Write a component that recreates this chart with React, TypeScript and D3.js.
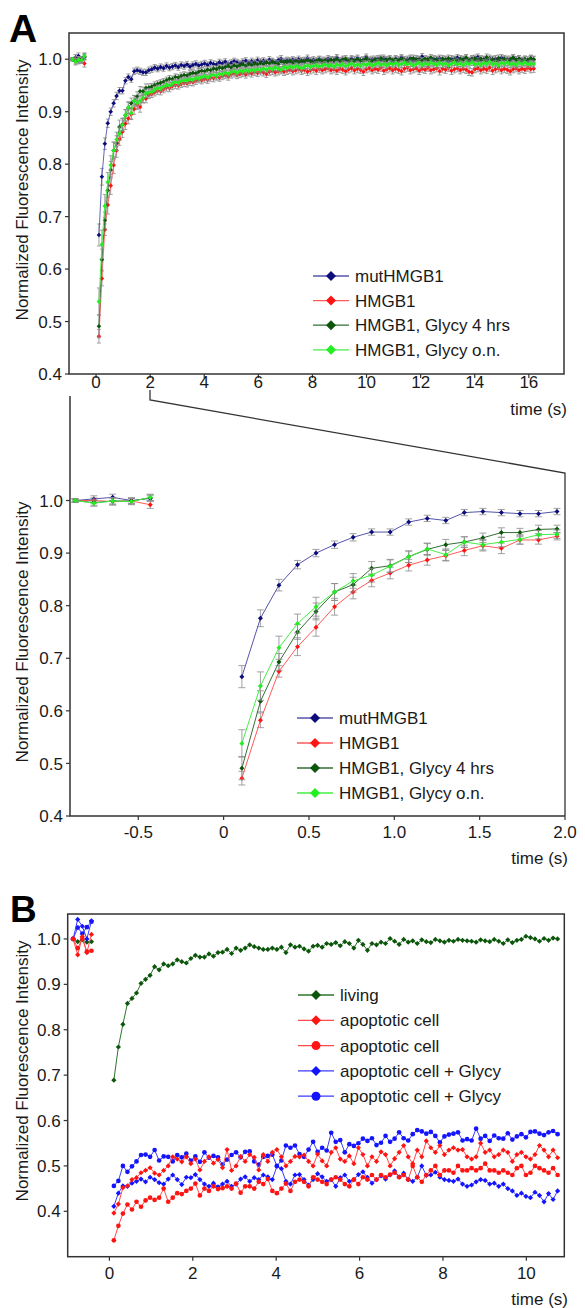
import React from 'react';
import * as d3 from 'd3';

const W = 585, H = 1308;
const FONT = "'Liberation Sans', Arial, Helvetica, sans-serif";

// ---------- sampling ----------
const preTimes = [-0.87, -0.76, -0.65, -0.54, -0.43];
const POST_T0 = 0.107;
const POST_DT = 0.1086;

// ---------- Panel A data ----------
const mutPre = [1.0, 1.003, 1.006, 1.0, 1.004];
const mutPreErr = [0.003, 0.006, 0.006, 0.005, 0.005];
const mutHead = [0.665, 0.776, 0.839, 0.878, 0.900, 0.916, 0.930, 0.940, 0.940, 0.959, 0.966, 0.962, 0.977, 0.979, 0.977, 0.975, 0.975, 0.979];
const mutHeadErr = [0.021, 0.016, 0.011, 0.008, 0.007, 0.007, 0.007, 0.006, 0.006, 0.006, 0.006, 0.006, 0.006, 0.006, 0.006, 0.006, 0.006, 0.006];
const mutTail = [
  0.981, 0.984, 0.982, 0.985, 0.983, 0.987, 0.984, 0.986, 0.988, 0.985, 0.989, 0.987,
  0.990, 0.986, 0.989, 0.991, 0.988, 0.990, 0.992, 0.989, 0.993, 0.991, 0.990, 0.994,
  0.992, 0.995, 0.991, 0.993, 0.996, 0.994, 0.992, 0.995, 0.997, 0.993, 0.996, 0.994,
  0.998, 0.995, 0.997, 0.994, 0.999, 0.996, 0.993, 0.998, 1.001, 0.996, 0.998, 0.995,
  0.999, 0.997, 1.000, 0.996, 0.998, 1.002, 0.997, 0.999, 0.995, 1.000, 0.998, 0.996,
  1.001, 0.998, 0.999, 1.003, 0.997, 1.000, 0.998, 0.996, 1.001, 0.999, 1.002, 0.997,
  0.999, 1.004, 0.998, 1.000, 0.997, 1.001, 0.999, 1.002, 0.998, 1.000, 0.996, 1.001,
  0.999, 1.003, 0.998, 1.000, 1.002, 0.997, 1.001, 0.999, 1.005, 0.998, 1.000, 0.997,
  1.001, 0.999, 1.002, 0.998, 1.000, 0.996, 1.001, 0.999, 1.003, 0.998, 1.000, 1.002,
  0.997, 1.001, 0.999, 1.004, 0.998, 1.000, 0.997, 1.002, 0.999, 1.001, 0.998, 1.003,
  0.999, 1.000, 0.997, 1.002, 0.999, 1.001, 0.998, 1.000, 0.996, 1.001, 0.999
];
const mutTailErr = 0.006;

const hmgPre = [1.0, 1.0, 0.998, 0.999, 0.992];
const hmgPreErr = [0.003, 0.005, 0.007, 0.005, 0.007];
const hmgHead = [0.472, 0.582, 0.675, 0.722, 0.759, 0.798, 0.826, 0.848, 0.862, 0.877, 0.887, 0.895, 0.905, 0.914, 0.909, 0.925, 0.925, 0.932];
const hmgHeadErr = [0.013, 0.014, 0.011, 0.017, 0.017, 0.016, 0.013, 0.012, 0.011, 0.011, 0.010, 0.010, 0.010, 0.010, 0.010, 0.008, 0.008, 0.007];
const hmgTail = [
  0.934, 0.937, 0.940, 0.939, 0.943, 0.946, 0.945, 0.949, 0.951, 0.950, 0.953, 0.955,
  0.954, 0.957, 0.956, 0.959, 0.962, 0.960, 0.963, 0.961, 0.965, 0.964, 0.967, 0.965,
  0.968, 0.970, 0.967, 0.971, 0.973, 0.970, 0.972, 0.974, 0.971, 0.975, 0.973, 0.976,
  0.974, 0.977, 0.975, 0.972, 0.976, 0.978, 0.975, 0.977, 0.979, 0.976, 0.978, 0.980,
  0.977, 0.979, 0.981, 0.978, 0.980, 0.976, 0.979, 0.981, 0.978, 0.982, 0.979, 0.981,
  0.983, 0.979, 0.981, 0.978, 0.982, 0.980, 0.977, 0.981, 0.983, 0.979, 0.982, 0.980,
  0.976, 0.981, 0.983, 0.979, 0.982, 0.980, 0.984, 0.978, 0.981, 0.983, 0.979, 0.982,
  0.980, 0.977, 0.982, 0.984, 0.979, 0.981, 0.983, 0.978, 0.982, 0.980, 0.984, 0.979,
  0.981, 0.983, 0.977, 0.982, 0.980, 0.984, 0.978, 0.981, 0.983, 0.979, 0.982, 0.980,
  0.976, 0.975, 0.981, 0.983, 0.979, 0.982, 0.980, 0.984, 0.978, 0.981, 0.983, 0.979,
  0.982, 0.980, 0.977, 0.981, 0.983, 0.979, 0.982, 0.980, 0.984, 0.981, 0.982
];
const hmgTailErr = 0.007;

const gly4Pre = [1.0, 0.996, 0.999, 0.999, 1.005];
const gly4PreErr = [0.003, 0.005, 0.006, 0.006, 0.006];
const gly4Head = [0.491, 0.618, 0.693, 0.750, 0.789, 0.826, 0.840, 0.871, 0.876, 0.893, 0.907, 0.916, 0.921, 0.929, 0.939, 0.939, 0.945, 0.946];
const gly4HeadErr = [0.022, 0.020, 0.016, 0.014, 0.016, 0.016, 0.014, 0.013, 0.012, 0.011, 0.011, 0.010, 0.010, 0.009, 0.009, 0.008, 0.008, 0.007];
const gly4Tail = [
  0.948, 0.951, 0.953, 0.955, 0.957, 0.960, 0.963, 0.962, 0.966, 0.965, 0.968, 0.970,
  0.969, 0.972, 0.974, 0.973, 0.976, 0.978, 0.977, 0.980, 0.979, 0.982, 0.981, 0.984,
  0.983, 0.985, 0.987, 0.984, 0.988, 0.986, 0.989, 0.990, 0.987, 0.991, 0.989, 0.992,
  0.990, 0.993, 0.991, 0.994, 0.992, 0.995, 0.993, 0.991, 0.996, 0.994, 0.995, 0.997,
  0.993, 0.996, 0.994, 0.997, 0.995, 0.998, 0.996, 0.994, 0.997, 0.999, 0.995, 0.998,
  0.996, 0.999, 0.997, 1.000, 0.996, 0.998, 1.001, 0.997, 0.999, 0.996, 1.000, 0.998,
  0.997, 1.001, 0.998, 0.996, 1.000, 0.998, 1.002, 0.997, 0.999, 1.001, 0.998, 1.000,
  0.997, 1.001, 0.999, 0.996, 1.000, 1.002, 0.998, 1.000, 0.997, 1.001, 0.999, 1.003,
  0.998, 1.000, 0.997, 1.001, 0.999, 1.002, 0.998, 1.000, 0.996, 1.001, 0.999, 1.003,
  0.998, 1.000, 1.002, 0.997, 1.001, 0.999, 1.004, 0.998, 1.000, 0.997, 1.002, 0.999,
  1.001, 0.998, 1.000, 1.003, 0.999, 1.001, 0.997, 1.000, 0.999, 1.002, 1.000
];
const gly4TailErr = 0.006;

const glyOnPre = [1.0, 0.995, 0.999, 0.998, 1.006];
const glyOnPreErr = [0.003, 0.006, 0.006, 0.006, 0.006];
const glyOnHead = [0.538, 0.647, 0.720, 0.766, 0.798, 0.826, 0.847, 0.858, 0.875, 0.893, 0.908, 0.897, 0.921, 0.916, 0.921, 0.926, 0.935, 0.936];
const glyOnHeadErr = [0.026, 0.027, 0.022, 0.018, 0.018, 0.016, 0.014, 0.013, 0.012, 0.011, 0.011, 0.011, 0.010, 0.010, 0.009, 0.009, 0.008, 0.008];
const glyOnTail = [
  0.938, 0.942, 0.945, 0.944, 0.948, 0.951, 0.950, 0.954, 0.956, 0.955, 0.958, 0.960,
  0.959, 0.962, 0.961, 0.964, 0.963, 0.966, 0.968, 0.965, 0.969, 0.970, 0.968, 0.972,
  0.971, 0.974, 0.972, 0.975, 0.977, 0.974, 0.978, 0.976, 0.979, 0.977, 0.980, 0.978,
  0.981, 0.979, 0.982, 0.980, 0.983, 0.981, 0.984, 0.982, 0.980, 0.985, 0.983, 0.986,
  0.984, 0.987, 0.985, 0.983, 0.986, 0.988, 0.985, 0.987, 0.989, 0.986, 0.988, 0.990,
  0.987, 0.989, 0.986, 0.990, 0.988, 0.991, 0.987, 0.989, 0.992, 0.988, 0.990, 0.987,
  0.991, 0.989, 0.992, 0.988, 0.990, 0.993, 0.989, 0.991, 0.988, 0.992, 0.990, 0.993,
  0.989, 0.991, 0.994, 0.990, 0.992, 0.988, 0.991, 0.993, 0.989, 0.992, 0.990, 0.994,
  0.991, 0.989, 0.993, 0.990, 0.992, 0.988, 0.991, 0.994, 0.990, 0.992, 0.989, 0.993,
  0.991, 0.994, 0.990, 0.992, 0.989, 0.993, 0.991, 0.995, 0.990, 0.992, 0.988, 0.993,
  0.991, 0.994, 0.990, 0.992, 0.989, 0.993, 0.991, 0.994, 0.990, 0.992, 0.991
];
const glyOnTailErr = 0.006;

// ---------- Panel B data ----------
const livingPre = [1.0, 0.994, 0.998, 0.993, 0.994];
const livingPost = [
  0.689, 0.762, 0.812, 0.858, 0.869, 0.881, 0.902, 0.911, 0.920, 0.939,
  0.932, 0.945, 0.941, 0.945, 0.954, 0.950, 0.947, 0.957, 0.964, 0.960,
  0.960, 0.967, 0.962, 0.970, 0.971, 0.977, 0.968, 0.980, 0.975, 0.980,
  0.987, 0.983, 0.980, 0.977, 0.977, 0.980, 0.977, 0.982, 0.970, 0.987,
  0.982, 0.984, 0.978, 0.973, 0.984, 0.986, 0.982, 0.990, 0.988, 0.992,
  0.985, 0.994, 0.990, 0.980, 0.997, 0.988, 0.975, 0.990, 0.987, 0.993,
  0.990, 1.001, 0.995, 0.988, 0.999, 0.993, 0.996, 0.990, 0.998, 0.994,
  0.992, 0.999, 0.996, 0.993, 0.997, 0.995, 0.999, 0.997, 0.996, 0.995,
  0.993, 0.998, 0.996, 0.994, 0.999, 0.995, 0.990, 0.998, 0.992, 0.997,
  0.999, 1.006, 1.003, 1.000, 0.995, 1.001, 0.997, 1.002, 1.000
];
const apoDiaPre = [1.0, 0.965, 1.005, 0.970, 1.010];
const apoDiaPost = [
  0.396, 0.416, 0.452, 0.456, 0.470, 0.474, 0.485, 0.490, 0.496, 0.484,
  0.480, 0.490, 0.500, 0.520, 0.515, 0.509, 0.520, 0.505, 0.515, 0.491,
  0.510, 0.520, 0.506, 0.514, 0.496, 0.536, 0.490, 0.500, 0.521, 0.510,
  0.525, 0.519, 0.491, 0.525, 0.510, 0.530, 0.536, 0.520, 0.500, 0.510,
  0.521, 0.520, 0.524, 0.510, 0.500, 0.526, 0.511, 0.500, 0.530, 0.540,
  0.515, 0.510, 0.522, 0.505, 0.540, 0.525, 0.500, 0.520, 0.510, 0.531,
  0.525, 0.500, 0.516, 0.530, 0.545, 0.520, 0.505, 0.535, 0.520, 0.555,
  0.540, 0.530, 0.545, 0.525, 0.535, 0.540, 0.535, 0.536, 0.520, 0.515,
  0.520, 0.550, 0.530, 0.535, 0.520, 0.525, 0.535, 0.530, 0.510, 0.525,
  0.530, 0.520, 0.515, 0.525, 0.545, 0.535, 0.520, 0.535, 0.518
];
const apoCirPre = [1.0, 0.980, 1.000, 0.972, 0.974];
const apoCirPost = [
  0.336, 0.368, 0.395, 0.415, 0.404, 0.421, 0.410, 0.424, 0.430, 0.425,
  0.430, 0.450, 0.421, 0.430, 0.440, 0.438, 0.445, 0.450, 0.461, 0.435,
  0.450, 0.445, 0.455, 0.449, 0.451, 0.455, 0.450, 0.461, 0.441, 0.455,
  0.455, 0.450, 0.465, 0.460, 0.471, 0.445, 0.440, 0.450, 0.461, 0.445,
  0.465, 0.470, 0.465, 0.455, 0.475, 0.470, 0.465, 0.460, 0.470, 0.475,
  0.470, 0.460, 0.455, 0.470, 0.460, 0.475, 0.470, 0.480, 0.470, 0.480,
  0.475, 0.481, 0.485, 0.475, 0.480, 0.470, 0.500, 0.475, 0.465, 0.480,
  0.490, 0.500, 0.480, 0.490, 0.490, 0.485, 0.500, 0.490, 0.490, 0.495,
  0.490, 0.495, 0.505, 0.490, 0.490, 0.485, 0.490, 0.485, 0.480, 0.495,
  0.500, 0.480, 0.485, 0.500, 0.495, 0.490, 0.485, 0.495, 0.480
];
const glyDiaPre = [1.0, 1.043, 1.028, 1.0, 1.040];
const glyDiaPost = [
  0.411, 0.440, 0.456, 0.455, 0.462, 0.466, 0.471, 0.465, 0.475, 0.470,
  0.463, 0.460, 0.471, 0.480, 0.470, 0.459, 0.475, 0.474, 0.481, 0.470,
  0.460, 0.455, 0.462, 0.454, 0.460, 0.466, 0.455, 0.460, 0.471, 0.476,
  0.466, 0.474, 0.470, 0.480, 0.476, 0.470, 0.499, 0.494, 0.466, 0.460,
  0.480, 0.481, 0.470, 0.458, 0.470, 0.483, 0.476, 0.466, 0.470, 0.455,
  0.474, 0.480, 0.466, 0.470, 0.481, 0.487, 0.475, 0.462, 0.470, 0.478,
  0.471, 0.480, 0.489, 0.476, 0.484, 0.470, 0.466, 0.475, 0.500, 0.479,
  0.480, 0.486, 0.475, 0.470, 0.468, 0.466, 0.471, 0.460, 0.455, 0.458,
  0.465, 0.470, 0.468, 0.460, 0.462, 0.455, 0.460, 0.450, 0.445, 0.435,
  0.440, 0.433, 0.430, 0.442, 0.435, 0.421, 0.439, 0.426, 0.445
];
const glyCirPre = [1.0, 1.025, 1.012, 1.026, 1.038];
const glyCirPost = [
  0.456, 0.467, 0.500, 0.487, 0.499, 0.510, 0.524, 0.525, 0.520, 0.535,
  0.512, 0.521, 0.520, 0.510, 0.524, 0.519, 0.527, 0.512, 0.521, 0.509,
  0.530, 0.518, 0.522, 0.519, 0.503, 0.514, 0.524, 0.530, 0.519, 0.531,
  0.532, 0.510, 0.503, 0.520, 0.522, 0.525, 0.500, 0.512, 0.545, 0.540,
  0.545, 0.526, 0.520, 0.536, 0.553, 0.531, 0.540, 0.534, 0.573, 0.553,
  0.557, 0.530, 0.548, 0.544, 0.550, 0.560, 0.555, 0.561, 0.546, 0.551,
  0.566, 0.553, 0.560, 0.574, 0.561, 0.556, 0.570, 0.579, 0.576, 0.571,
  0.575, 0.566, 0.552, 0.565, 0.569, 0.571, 0.574, 0.556, 0.559, 0.556,
  0.582, 0.560, 0.566, 0.555, 0.567, 0.561, 0.560, 0.572, 0.558, 0.565,
  0.570, 0.563, 0.575, 0.576, 0.571, 0.568, 0.574, 0.577, 0.570
];

// ---------- ticks / labels ----------
const yTicksA = [0.4, 0.5, 0.6, 0.7, 0.8, 0.9, 1.0];
const xTicksTop = [0, 2, 4, 6, 8, 10, 12, 14, 16];
const xTicksMid = [-0.5, 0, 0.5, 1.0, 1.5, 2.0];
const xTickLabelsMid = ['-0.5', '0', '0.5', '1.0', '1.5', '2.0'];
const yTicksB = [0.4, 0.5, 0.6, 0.7, 0.8, 0.9, 1.0];
const xTicksB = [0, 2, 4, 6, 8, 10];
const legendA = ['mutHMGB1', 'HMGB1', 'HMGB1, Glycy 4 hrs', 'HMGB1, Glycy o.n.'];
const legendB = ['living', 'apoptotic cell', 'apoptotic cell', 'apoptotic cell + Glycy', 'apoptotic cell + Glycy'];
const Y_LABEL = 'Normalized Fluorescence Intensity';
const X_LABEL = 'time (s)';

// ---------- styles ----------
const AXIS = '#333';
const ERR = '#8a8a8a';
const stylesA = [
  { marker: '#0c0c7a', line: '#5555aa' },
  { marker: '#ff1414', line: '#ff5a5a' },
  { marker: '#0c560c', line: '#336f33' },
  { marker: '#22ee22', line: '#44ee44' },
];
const stylesB = [
  { marker: '#0c560c', line: '#2e752e', shape: 'diamond' },
  { marker: '#ff1414', line: '#ff4a4a', shape: 'diamond' },
  { marker: '#ff1414', line: '#ff4a4a', shape: 'circle' },
  { marker: '#1414ff', line: '#3a3aff', shape: 'diamond' },
  { marker: '#1414ff', line: '#3a3aff', shape: 'circle' },
];

type Pt = { t: number; v: number; e?: number };

const postTimes = (n: number) => d3.range(n).map(i => POST_T0 + POST_DT * i);

function mk(vals: number[], times: number[], errs?: number[] | number): Pt[] {
  return vals.map((v, i) => ({ t: times[i], v, e: errs === undefined ? undefined : (typeof errs === 'number' ? errs : errs[i]) }));
}

function diamondPath(cx: number, cy: number, r: number) {
  return `M${cx},${cy - r}L${cx + r},${cy}L${cx},${cy + r}L${cx - r},${cy}Z`;
}

function Marker({ cx, cy, r, color, shape }: { cx: number; cy: number; r: number; color: string; shape: string }) {
  if (shape === 'circle') return <circle cx={cx} cy={cy} r={r * 0.9} fill={color} />;
  return <path d={diamondPath(cx, cy, r)} fill={color} />;
}

function SeriesG({ segs, x, y, marker, line, shape, r, cap, lw }: any) {
  const gen = d3.line<Pt>().x(d => x(d.t)).y(d => y(d.v));
  return (
    <g>
      {segs.map((s: Pt[], k: number) => (
        <g key={'e' + k}>
          {s.filter(p => p.e !== undefined).map((p, i) => {
            const cx = x(p.t), y1 = y(p.v - (p.e as number)), y2 = y(p.v + (p.e as number));
            return (
              <g key={i} stroke={ERR} strokeWidth={0.8}>
                <line x1={cx} x2={cx} y1={y1} y2={y2} />
                <line x1={cx - cap} x2={cx + cap} y1={y1} y2={y1} />
                <line x1={cx - cap} x2={cx + cap} y1={y2} y2={y2} />
              </g>
            );
          })}
        </g>
      ))}
      {segs.map((s: Pt[], k: number) => (
        <path key={'l' + k} d={gen(s) || ''} fill="none" stroke={line} strokeWidth={lw} />
      ))}
      {segs.map((s: Pt[], k: number) => (
        <g key={'m' + k}>
          {s.map((p, i) => <Marker key={i} cx={x(p.t)} cy={y(p.v)} r={r} color={marker} shape={shape} />)}
        </g>
      ))}
    </g>
  );
}

function Legend({ x0, y0, dy, items, styles, r }: any) {
  return (
    <g>
      {items.map((name: string, i: number) => {
        const yy = y0 + i * dy;
        const st = styles[i];
        return (
          <g key={i}>
            <line x1={x0} x2={x0 + 36} y1={yy} y2={yy} stroke={st.line} strokeWidth={1.3} />
            <Marker cx={x0 + 18} cy={yy} r={r} color={st.marker} shape={st.shape || 'diamond'} />
            <text x={x0 + 42} y={yy} dy="0.35em" fontSize={17} fontFamily={FONT} fill="#1a1a1a">{name}</text>
          </g>
        );
      })}
    </g>
  );
}

function YAxis({ x0, y, ticks, fmt }: any) {
  return (
    <g>
      {ticks.map((t: number, i: number) => (
        <g key={i}>
          <line x1={x0 - 4} x2={x0} y1={y(t)} y2={y(t)} stroke={AXIS} strokeWidth={1.2} />
          <text x={x0 - 7} y={y(t)} dy="0.36em" textAnchor="end" fontSize={17} fontFamily={FONT} fill="#1a1a1a">{fmt(t)}</text>
        </g>
      ))}
    </g>
  );
}

function XAxis({ y0, x, ticks, labels, base }: any) {
  return (
    <g>
      {ticks.map((t: number, i: number) => (
        <g key={i}>
          <line x1={x(t)} x2={x(t)} y1={y0} y2={y0 + 4} stroke={AXIS} strokeWidth={1.2} />
          <text x={x(t)} y={base} textAnchor="middle" fontSize={17} fontFamily={FONT} fill="#1a1a1a">{labels[i]}</text>
        </g>
      ))}
    </g>
  );
}

export default function App() {
  const f1 = d3.format('.1f');

  // ----- Panel A top -----
  const xTop = d3.scaleLinear().domain([-1, 17.3]).range([69, 564]);
  const yTop = d3.scaleLinear().domain([0.4, 1.05]).range([374, 33]);

  const aSeries = [
    { pre: mutPre, preErr: mutPreErr, head: mutHead, headErr: mutHeadErr, tail: mutTail, tailErr: mutTailErr },
    { pre: hmgPre, preErr: hmgPreErr, head: hmgHead, headErr: hmgHeadErr, tail: hmgTail, tailErr: hmgTailErr },
    { pre: gly4Pre, preErr: gly4PreErr, head: gly4Head, headErr: gly4HeadErr, tail: gly4Tail, tailErr: gly4TailErr },
    { pre: glyOnPre, preErr: glyOnPreErr, head: glyOnHead, headErr: glyOnHeadErr, tail: glyOnTail, tailErr: glyOnTailErr },
  ];

  const topSegs = aSeries.map(s => {
    const vals = [...s.head, ...s.tail];
    const errs = [...s.headErr, ...s.tail.map(() => s.tailErr)];
    return [mk(s.pre, preTimes, s.preErr), mk(vals, postTimes(vals.length), errs)];
  });
  const midSegs = aSeries.map(s => [mk(s.pre, preTimes, s.preErr), mk(s.head, postTimes(s.head.length), s.headErr)]);

  // ----- Panel A zoom -----
  const xMid = d3.scaleLinear().domain([-0.9, 2.0]).range([70, 565]);
  const yMid = d3.scaleLinear().domain([0.4, 1.0]).range([816, 500.5]);

  // ----- Panel B -----
  const xB = d3.scaleLinear().domain([-1, 10.91]).range([67.7, 564.3]);
  const yB = d3.scaleLinear().domain([0.3, 1.055]).range([1256.7, 914]);
  const bData = [
    [livingPre, livingPost], [apoDiaPre, apoDiaPost], [apoCirPre, apoCirPost], [glyDiaPre, glyDiaPost], [glyCirPre, glyCirPost],
  ];
  const bSegs = bData.map(([pre, post]) => [mk(pre, preTimes), mk(post, postTimes(post.length))]);
  const bOrder = [0, 4, 3, 1, 2];

  return (
    <svg width={W} height={H} style={{ position: 'absolute', left: 0, top: 0, background: '#fff' }} xmlns="http://www.w3.org/2000/svg">
      <rect x={0} y={0} width={W} height={H} fill="#fff" />

      {/* ===== Panel A top ===== */}
      <text x={9} y={42} fontSize={39} fontWeight="bold" fontFamily={FONT} fill="#000">A</text>
      <rect x={69} y={33} width={495} height={341} fill="none" stroke={AXIS} strokeWidth={1.5} />
      {topSegs.map((segs, i) => (
        <SeriesG key={i} segs={segs} x={xTop} y={yTop} marker={stylesA[i].marker} line={stylesA[i].line} shape="diamond" r={2.3} cap={2} lw={0.9} />
      ))}
      <YAxis x0={69} y={yTop} ticks={yTicksA} fmt={f1} />
      <XAxis y0={374} x={xTop} ticks={xTicksTop} labels={xTicksTop.map(String)} base={388} />
      <text x={567} y={415} textAnchor="end" fontSize={17} fontFamily={FONT} fill="#1a1a1a">{X_LABEL}</text>
      <text transform={`translate(28,${190}) rotate(-90)`} textAnchor="middle" fontSize={17} fontFamily={FONT} fill="#1a1a1a">{Y_LABEL}</text>
      <Legend x0={313} y0={276} dy={24.6} items={legendA} styles={stylesA} r={5} />

      {/* connector + zoom panel frame */}
      <path d={`M150,390V400L565,473V816`} fill="none" stroke={AXIS} strokeWidth={1.3} />
      <path d={`M70,396V816H565`} fill="none" stroke={AXIS} strokeWidth={1.5} />

      {/* ===== Panel A zoom ===== */}
      {midSegs.map((segs, i) => (
        <SeriesG key={i} segs={segs} x={xMid} y={yMid} marker={stylesA[i].marker} line={stylesA[i].line} shape="diamond" r={2.5} cap={3.5} lw={1} />
      ))}
      <YAxis x0={70} y={yMid} ticks={yTicksA} fmt={f1} />
      <XAxis y0={816} x={xMid} ticks={xTicksMid} labels={xTickLabelsMid} base={838} />
      <text x={568} y={864} textAnchor="end" fontSize={17} fontFamily={FONT} fill="#1a1a1a">{X_LABEL}</text>
      <text transform={`translate(28,${632}) rotate(-90)`} textAnchor="middle" fontSize={17} fontFamily={FONT} fill="#1a1a1a">{Y_LABEL}</text>
      <Legend x0={297} y0={718} dy={25} items={legendA} styles={stylesA} r={5} />

      {/* ===== Panel B ===== */}
      <text x={10} y={922} fontSize={37} fontWeight="bold" fontFamily={FONT} fill="#000">B</text>
      <rect x={67.7} y={914} width={496.6} height={342.7} fill="none" stroke={AXIS} strokeWidth={1.5} />
      {bOrder.map(i => (
        <SeriesG key={i} segs={bSegs[i]} x={xB} y={yB} marker={stylesB[i].marker} line={stylesB[i].line} shape={stylesB[i].shape} r={2.6} cap={0} lw={1} />
      ))}
      <YAxis x0={67.7} y={yB} ticks={yTicksB} fmt={f1} />
      <XAxis y0={1256.7} x={xB} ticks={xTicksB} labels={xTicksB.map(String)} base={1279} />
      <text x={568} y={1305} textAnchor="end" fontSize={17} fontFamily={FONT} fill="#1a1a1a">{X_LABEL}</text>
      <text transform={`translate(28,${1071}) rotate(-90)`} textAnchor="middle" fontSize={17} fontFamily={FONT} fill="#1a1a1a">{Y_LABEL}</text>
      <Legend x0={298} y0={995} dy={25.3} items={legendB} styles={stylesB} r={5} />
    </svg>
  );
}
